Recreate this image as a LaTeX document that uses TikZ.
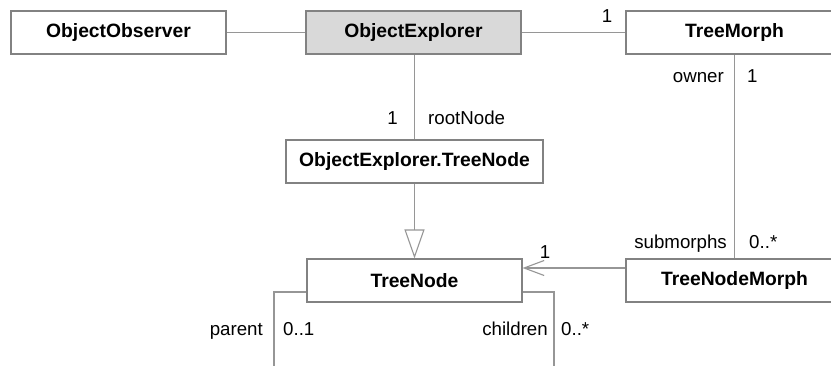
\documentclass[tikz,border=0pt]{standalone}
\usepackage{fontspec}
\setmainfont{Liberation Sans}
\usetikzlibrary{arrows.meta}
\definecolor{edgegray}{RGB}{150,150,150}
\definecolor{boxgray}{RGB}{130,130,130}
\definecolor{headfill}{RGB}{217,217,217}
\begin{document}
\begin{tikzpicture}[x=1pt,y=-1pt,
  classbox/.style={draw=boxgray, line width=1.1pt, fill=white, minimum height=43pt,
    inner sep=0pt, font=\fontsize{19.3}{21}\selectfont\bfseries},
  assoc/.style={draw=edgegray, line width=1.1pt},
  lbl/.style={inner sep=0pt, font=\fontsize{18.7}{20}\selectfont}
]
\useasboundingbox (0,0) rectangle (831,365);
\clip (0,0) rectangle (831,365);

% classes
\node[classbox, minimum width=215pt] (obs) at (118.5,32.5) {ObjectObserver};
\node[classbox, minimum width=215pt, fill=headfill] (exp) at (413.5,32.5) {ObjectExplorer};
\node[classbox, minimum width=217pt] (tm) at (734.5,32.5) {TreeMorph};
\node[classbox, minimum width=257pt] (etn) at (414.5,161.5) {ObjectExplorer.TreeNode};
\node[classbox, minimum width=215pt] (tn) at (414.5,280.5) {TreeNode};
\node[classbox, minimum width=217pt] (tnm) at (734.5,280.5) {TreeNodeMorph};

% associations
\draw[assoc] (obs.east) -- (exp.west);
\draw[assoc] (exp.east) -- (tm.west);
\draw[assoc] (etn.north |- exp.south) -- (etn.north);
\draw[assoc] (tm.south) -- (tnm.north);

% generalisation
\draw[assoc, -{Triangle[open, length=29pt, width=20pt, line width=1.1pt]}]
  (etn.south) -- (tn.north);

% navigable association
\draw[assoc, -{Straight Barb[length=20pt, width=15pt, line width=1.1pt]}]
  (tnm.west |- 0,268) -- (tn.east |- 0,268);

% self association of TreeNode
\coordinate (pbot) at (274,370);
\coordinate (cbot) at (554,370);
\draw[assoc] (tn.west |- 0,292) -| (pbot);
\draw[assoc] (tn.east |- 0,292) -| (cbot);

% role names and multiplicities
\node[lbl, anchor=base] (m1) at (607,22) {1};
\node[lbl, anchor=base east] (m2) at (398,124) {1};
\node[lbl, anchor=base west] (r1) at (428,124) {rootNode};
\node[lbl, anchor=base east] (r2) at (724,82) {owner};
\node[lbl, anchor=base west] (m3) at (747,82) {1};
\node[lbl, anchor=base east] (r3) at (727,248) {submorphs};
\node[lbl, anchor=base west] (m4) at (749,248) {0..*};
\node[lbl, anchor=base] (m5) at (545,258) {1};
\node[lbl, anchor=base east] (r4) at (263,335) {parent};
\node[lbl, anchor=base west] (m6) at (283,335) {0..1};
\node[lbl, anchor=base east] (r5) at (548,335) {children};
\node[lbl, anchor=base west] (m7) at (561,335) {0..*};
\end{tikzpicture}
\end{document}
